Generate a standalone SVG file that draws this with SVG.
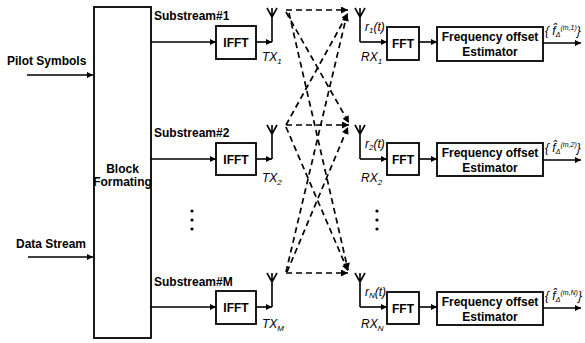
<svg xmlns="http://www.w3.org/2000/svg" width="585" height="343" viewBox="0 0 585 343">
<defs>
<marker id="ah" viewBox="0 0 10 10" refX="10" refY="5" markerWidth="7" markerHeight="6" markerUnits="userSpaceOnUse" orient="auto">
<path d="M0,0 L10,5 L0,10 Z" fill="#000"/>
</marker>
<marker id="ahd" viewBox="0 0 10 10" refX="10" refY="5" markerWidth="9" markerHeight="7" markerUnits="userSpaceOnUse" orient="auto">
<path d="M0,0 L10,5 L0,10 Z" fill="#000"/>
</marker>
<path id="antenna" d="M-5,0 L0,9 L5,0 M0,0 V34" fill="none" stroke="#000" stroke-width="1.6"/>
</defs>
<style>
.box{fill:#fff;stroke:#000;stroke-width:1.8}
.t{font-family:"Liberation Sans",Arial,sans-serif;font-size:12px;font-weight:bold;fill:#000}
.c{text-anchor:middle}
.it{font-family:"Liberation Sans",Arial,sans-serif;font-size:12px;font-style:italic;fill:#000}
.ln{fill:none;stroke:#000;stroke-width:1.6}
.dl{fill:none;stroke:#000;stroke-width:1.7;stroke-dasharray:6 4}
</style>
<rect width="585" height="343" fill="#fff"/>

<g id="connectors">
<line class="ln" x1="27" y1="75" x2="93" y2="75" marker-end="url(#ah)"/>
<line class="ln" x1="28" y1="257" x2="93" y2="257" marker-end="url(#ah)"/>
<line class="ln" x1="151" y1="42" x2="216" y2="42" marker-end="url(#ah)"/>
<line class="ln" x1="151" y1="159" x2="216" y2="159" marker-end="url(#ah)"/>
<line class="ln" x1="151" y1="307" x2="216" y2="307" marker-end="url(#ah)"/>
<line class="ln" x1="256" y1="42" x2="272" y2="42" marker-end="url(#ah)"/>
<line class="ln" x1="256" y1="159" x2="272" y2="159" marker-end="url(#ah)"/>
<line class="ln" x1="256" y1="307" x2="272" y2="307" marker-end="url(#ah)"/>
<line class="ln" x1="360" y1="42" x2="387" y2="42" marker-end="url(#ah)"/>
<line class="ln" x1="360" y1="159" x2="387" y2="159" marker-end="url(#ah)"/>
<line class="ln" x1="360" y1="307" x2="387" y2="307" marker-end="url(#ah)"/>
<line class="ln" x1="419" y1="42" x2="437" y2="42" marker-end="url(#ah)"/>
<line class="ln" x1="419" y1="159" x2="437" y2="159" marker-end="url(#ah)"/>
<line class="ln" x1="419" y1="307" x2="437" y2="307" marker-end="url(#ah)"/>
<line class="ln" x1="543" y1="43" x2="581" y2="43" marker-end="url(#ah)"/>
<line class="ln" x1="543" y1="160" x2="581" y2="160" marker-end="url(#ah)"/>
<line class="ln" x1="543" y1="308" x2="581" y2="308" marker-end="url(#ah)"/>
<!-- wireless links -->
<line class="dl" x1="286" y1="10" x2="348" y2="10" marker-end="url(#ahd)"/>
<line class="dl" x1="286" y1="12" x2="349" y2="123" marker-end="url(#ahd)"/>
<line class="dl" x1="289" y1="13" x2="348" y2="270" marker-end="url(#ahd)"/>
<line class="dl" x1="286" y1="125" x2="348" y2="13" marker-end="url(#ahd)"/>
<line class="dl" x1="286" y1="125" x2="349" y2="125" marker-end="url(#ahd)"/>
<line class="dl" x1="286" y1="127" x2="348" y2="271" marker-end="url(#ahd)"/>
<line class="dl" x1="286" y1="272" x2="347" y2="14" marker-end="url(#ahd)"/>
<line class="dl" x1="287" y1="272" x2="348" y2="127" marker-end="url(#ahd)"/>
<line class="dl" x1="286" y1="273" x2="348" y2="273" marker-end="url(#ahd)"/>
</g>

<g id="inputs">
<text class="t" x="7" y="65">Pilot Symbols</text>
<text class="t" x="16" y="248">Data Stream</text>
</g>

<g id="block-formating">
<rect class="box" x="94" y="7" width="57" height="331"/>
<text class="t c" x="122.5" y="173">Block</text>
<text class="t c" x="122.5" y="186">Formating</text>
</g>

<g id="substream-labels">
<text class="t" x="154" y="20">Substream#1</text>
<text class="t" x="154" y="137">Substream#2</text>
<text class="t" x="154" y="286">Substream#M</text>
</g>

<g id="ifft1"><rect class="box" x="216" y="26" width="40" height="33"/><text class="t c" x="236" y="47">IFFT</text></g>
<g id="ifft2"><rect class="box" x="216" y="143" width="40" height="32"/><text class="t c" x="236" y="163.5">IFFT</text></g>
<g id="ifftM"><rect class="box" x="216" y="291" width="40" height="33"/><text class="t c" x="236" y="312">IFFT</text></g>

<g id="tx1"><use href="#antenna" x="272" y="8"/><text class="it" x="262" y="61">TX<tspan font-size="8" dy="3">1</tspan></text></g>
<g id="tx2"><use href="#antenna" x="272" y="125"/><text class="it" x="262" y="182">TX<tspan font-size="8" dy="3">2</tspan></text></g>
<g id="txM"><use href="#antenna" x="272" y="273"/><text class="it" x="262" y="328">TX<tspan font-size="8" dy="3">M</tspan></text></g>

<g id="rx1"><use href="#antenna" x="360" y="8"/><text class="it" x="365" y="31" font-size="11">r<tspan font-size="8" dy="2">1</tspan><tspan dy="-2">(t)</tspan></text><text class="it" x="361" y="61">RX<tspan font-size="8" dy="3">1</tspan></text></g>
<g id="rx2"><use href="#antenna" x="360" y="125"/><text class="it" x="365" y="148" font-size="11">r<tspan font-size="8" dy="2">2</tspan><tspan dy="-2">(t)</tspan></text><text class="it" x="361" y="182">RX<tspan font-size="8" dy="3">2</tspan></text></g>
<g id="rxN"><use href="#antenna" x="360" y="273"/><text class="it" x="365" y="296" font-size="11">r<tspan font-size="8" dy="2">N</tspan><tspan dy="-2">(t)</tspan></text><text class="it" x="361" y="328">RX<tspan font-size="8" dy="3">N</tspan></text></g>

<g id="fft1"><rect class="box" x="387" y="27" width="32" height="33"/><text class="t c" x="403" y="48">FFT</text></g>
<g id="fft2"><rect class="box" x="387" y="143" width="32" height="32"/><text class="t c" x="403" y="163.5">FFT</text></g>
<g id="fftN"><rect class="box" x="387" y="292" width="32" height="32"/><text class="t c" x="403" y="312.5">FFT</text></g>

<g id="est1"><rect class="box" x="437" y="27" width="106" height="34"/><text class="t c" x="490" y="41">Frequency offset</text><text class="t c" x="490" y="56">Estimator</text></g>
<g id="est2"><rect class="box" x="437" y="143" width="106" height="33"/><text class="t c" x="490" y="157">Frequency offset</text><text class="t c" x="490" y="172">Estimator</text></g>
<g id="estN"><rect class="box" x="437" y="292" width="106" height="33"/><text class="t c" x="490" y="306">Frequency offset</text><text class="t c" x="490" y="321">Estimator</text></g>

<g id="out1"><text class="it" x="545" y="35" font-size="12">{ f̂<tspan font-size="7" dy="2">Δ</tspan><tspan font-size="7" dy="-7">(m,1)</tspan><tspan dy="5">}</tspan></text></g>
<g id="out2"><text class="it" x="545" y="152" font-size="12">{ f̂<tspan font-size="7" dy="2">Δ</tspan><tspan font-size="7" dy="-7">(m,2)</tspan><tspan dy="5">}</tspan></text></g>
<g id="outN"><text class="it" x="545" y="300" font-size="12">{ f̂<tspan font-size="7" dy="2">Δ</tspan><tspan font-size="7" dy="-7">(m,N)</tspan><tspan dy="5">}</tspan></text></g>

<g id="dots">
<circle cx="192" cy="211" r="1.6"/><circle cx="192" cy="220" r="1.6"/><circle cx="192" cy="229" r="1.6"/>
<circle cx="377" cy="211" r="1.6"/><circle cx="377" cy="220" r="1.6"/><circle cx="377" cy="229" r="1.6"/>
</g>
</svg>
